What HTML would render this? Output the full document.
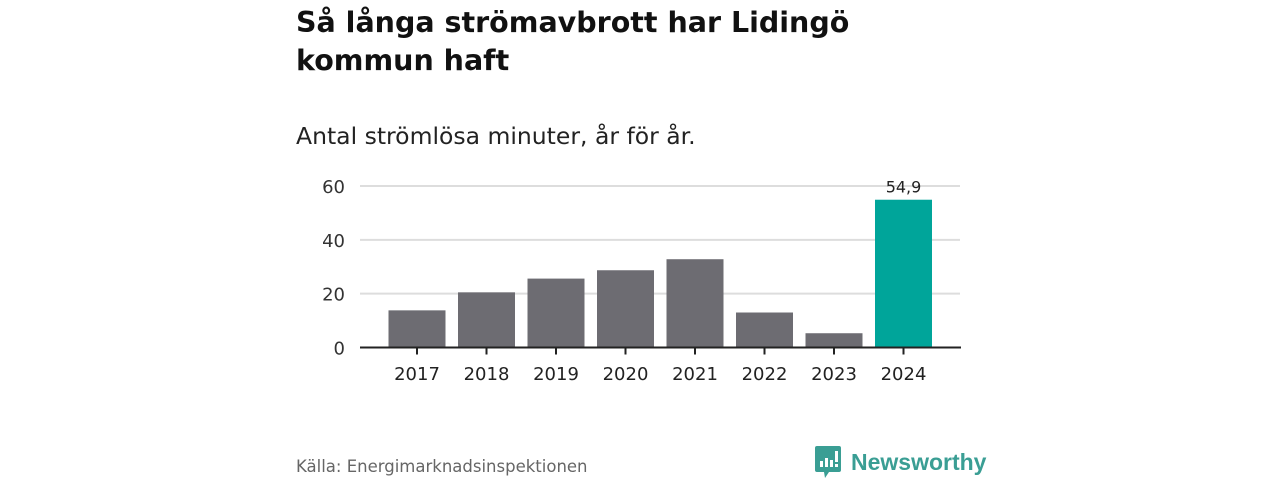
<!DOCTYPE html>
<html><head><meta charset="utf-8"><style>
body{margin:0;width:1280px;height:480px;background:#fff;font-family:"DejaVu Sans","Liberation Sans",sans-serif;overflow:hidden;position:relative}
h1{position:absolute;left:296px;top:4px;margin:0;font-size:28.5px;line-height:38px;font-weight:bold;color:#111;width:600px}
.sub{position:absolute;left:296px;top:122px;font-size:23.5px;color:#222}
.src{position:absolute;left:296px;top:457px;font-size:16.5px;color:#666}
.logo{position:absolute;left:815px;top:446px;display:flex;align-items:center;color:#3a9e94;font-weight:bold;font-size:23px;font-family:"Liberation Sans",sans-serif}
svg{position:absolute;left:0;top:0}
</style></head><body>
<h1>Så långa strömavbrott har Lidingö<br>kommun haft</h1>
<div class="sub">Antal strömlösa minuter, år för år.</div>
<svg id="chart" width="1280" height="480" style="font-family:'DejaVu Sans',sans-serif"></svg>
<div class="src">Källa: Energimarknadsinspektionen</div>
<div class="logo">
<svg style="position:static;margin-right:10px" width="26" height="32" viewBox="0 0 26 32"><path d="M2 0h22a2 2 0 0 1 2 2v22a2 2 0 0 1-2 2H14l-4 6-1-6H2a2 2 0 0 1-2-2V2a2 2 0 0 1 2-2z" fill="#3a9e94"/><rect x="5" y="15" width="3" height="6" fill="#fff"/><rect x="10" y="12" width="3" height="9" fill="#fff"/><rect x="15" y="14" width="3" height="7" fill="#fff"/><rect x="20" y="5" width="3" height="11" fill="#fff"/><rect x="20" y="18" width="3" height="3" fill="#fff"/></svg>
<span>Newsworthy</span></div>
<script>
const categories=["2017","2018","2019","2020","2021","2022","2023","2024"];
const values=[13.8,20.5,25.6,28.7,32.8,13.0,5.3,54.9];
const yTicks=[0,20,40,60];
const labeledValue="54,9";
const NS="http://www.w3.org/2000/svg";
const svg=document.getElementById("chart");
const y0=347.5,yTop=186,yMax=60;
const y=v=>y0-(v/yMax)*(y0-yTop);
const x=i=>388.5+i*69.5;
const bw=57;
function mk(t,a){const e=document.createElementNS(NS,t);for(const k in a)e.setAttribute(k,a[k]);svg.appendChild(e);return e;}
yTicks.forEach(t=>{
 if(t>0){const l=mk("line",{x1:360,x2:960,y1:y(t),y2:y(t),stroke:"#ddd","stroke-width":2});
 
 }
 const tx=mk("text",{x:345,y:y(t)+7,"text-anchor":"end","font-size":18,fill:"#333"});tx.textContent=t;
 
 
});
values.forEach((v,i)=>{
 const r=mk("rect",{x:x(i),y:y(v),width:bw,height:y0-y(v),fill:i===values.length-1?"#00a59a":"#6d6c72"});
 
 
 const tk=mk("line",{x1:x(i)+bw/2,x2:x(i)+bw/2,y1:y0,y2:y0+7,stroke:"#222","stroke-width":2});
 
 
 const t=mk("text",{x:x(i)+bw/2,y:380,"text-anchor":"middle","font-size":18,fill:"#222"});t.textContent=categories[i];
 
 
});
const ax=mk("line",{x1:360,x2:961,y1:y0,y2:y0,stroke:"#222","stroke-width":2});


const li=values.length-1;
const vl=mk("text",{x:x(li)+bw/2,y:y(values[li])-7,"text-anchor":"middle","font-size":16,fill:"#222"});vl.textContent=labeledValue;


</script>
</body></html>
